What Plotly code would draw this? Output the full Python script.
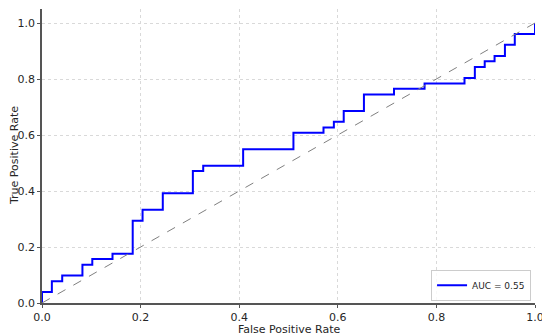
import plotly.graph_objects as go

fpr = [0.0, 0.0, 0.020, 0.041, 0.082, 0.102, 0.143, 0.184, 0.204, 0.245, 0.306, 0.327,
       0.408, 0.510, 0.571, 0.592, 0.612, 0.653, 0.714, 0.776, 0.857, 0.878, 0.898,
       0.918, 0.939, 0.959, 1.0]
tpr = [0.0, 0.039, 0.078, 0.098, 0.137, 0.157, 0.176, 0.294, 0.333, 0.392, 0.471, 0.490,
       0.549, 0.608, 0.627, 0.647, 0.686, 0.745, 0.765, 0.784, 0.804, 0.843, 0.863,
       0.882, 0.922, 0.961, 1.0]
auc_label = "AUC = 0.55"
x_title = "False Positive Rate"
y_title = "True Positive Rate"
chance_x = [0, 1]
chance_y = [0, 1]
tick_vals = [0.0, 0.2, 0.4, 0.6, 0.8, 1.0]

fig = go.Figure()
fig.add_trace(go.Scatter(x=fpr, y=tpr, mode="lines", line_shape="hv",
                         line=dict(color="#0000ff", width=2), name=auc_label))
fig.add_trace(go.Scatter(x=chance_x, y=chance_y, mode="lines",
                         line=dict(color="#808080", width=1, dash="dash"),
                         showlegend=False, hoverinfo="skip"))

axis_common = dict(
    showgrid=True, gridcolor="#d9d9d9", griddash="dot", gridwidth=1,
    showline=True, linecolor="#555555", linewidth=1.5,
    ticks="outside", ticklen=3, tickcolor="#555555",
    tickvals=tick_vals, tickformat=".1f", zeroline=False, automargin=False,
    tickfont=dict(family="DejaVu Sans", size=11, color="#262626"),
)
title_font = dict(family="DejaVu Sans", size=11, color="#262626")
fig.update_xaxes(range=[0, 1], **axis_common)
fig.update_yaxes(range=[0, 1.05], **axis_common)

fig.add_annotation(text=x_title, xref="paper", yref="paper", x=0.5, y=0,
                   xanchor="center", yanchor="top", yshift=-18, showarrow=False,
                   font=title_font)
fig.add_annotation(text=y_title, xref="paper", yref="paper", x=0, y=0.5,
                   xanchor="center", yanchor="middle", xshift=-28, textangle=-90,
                   showarrow=False, font=title_font)

# the page body adds an 8px offset, so the figure is sized to fit inside the window
fig.update_layout(
    width=542, height=328,
    margin=dict(l=34, r=15, t=1, b=33),
    plot_bgcolor="white", paper_bgcolor="white",
    font=dict(family="DejaVu Sans", size=11, color="#262626"),
    legend=dict(x=0.992, y=0.008, xanchor="right", yanchor="bottom",
                bgcolor="rgba(255,255,255,0.8)", bordercolor="#cccccc", borderwidth=1,
                itemwidth=30, tracegroupgap=0,
                font=dict(family="DejaVu Sans", size=9, color="#262626")),
)
fig.write_html("out.html")
